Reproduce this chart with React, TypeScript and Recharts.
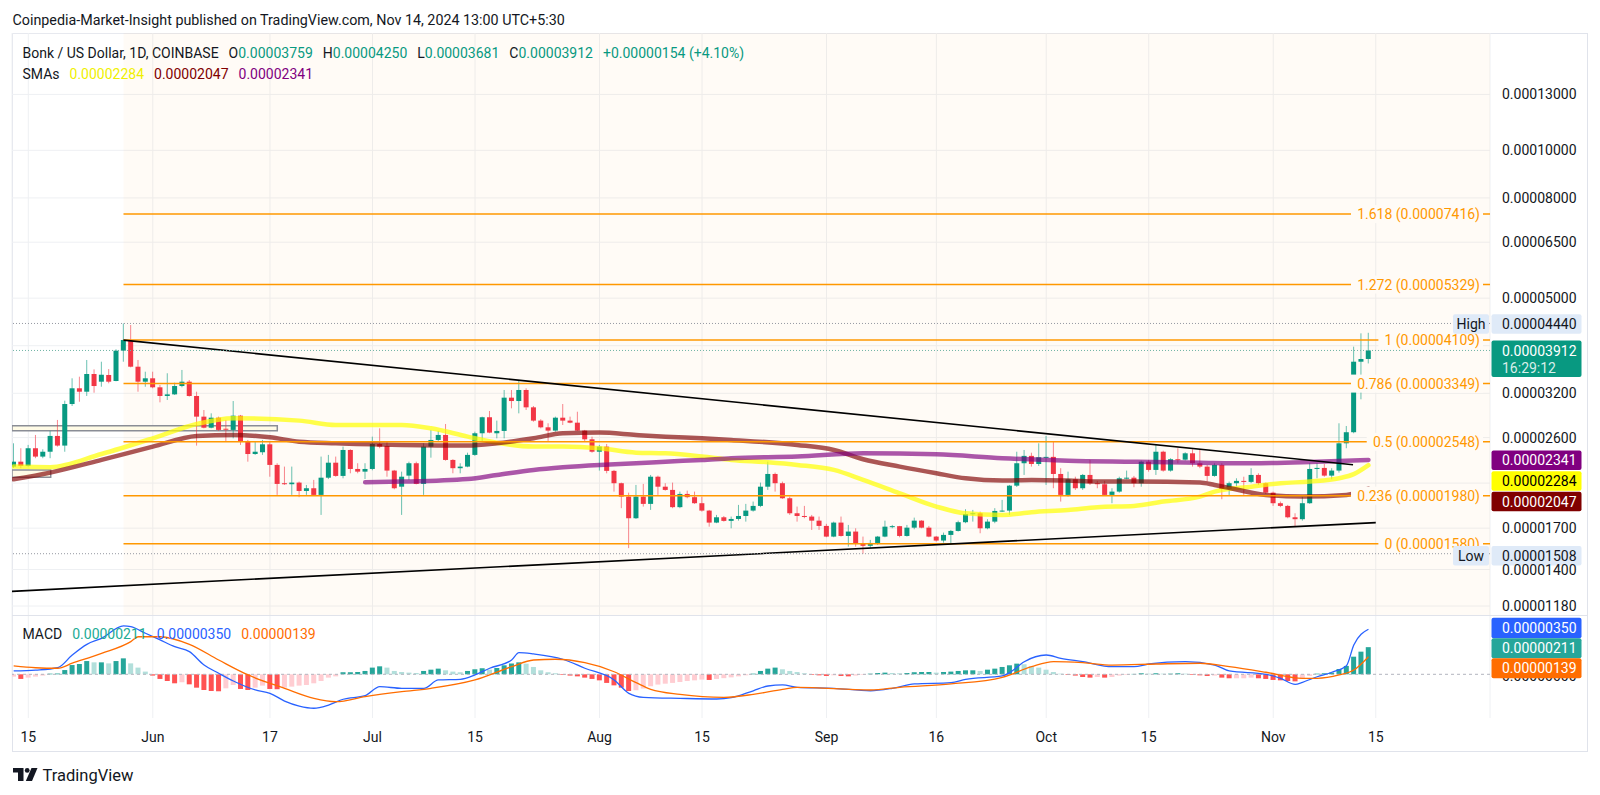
import React from 'react';
import { ComposedChart, Bar, Line, XAxis, YAxis, CartesianGrid, ReferenceLine, ReferenceArea, Cell } from 'recharts';

// ---------------- DATA ----------------
// day 0 = 15 May 2024, first candle = 13 May 2024 (day -2), last = 14 Nov 2024 (day 183)
const FIRST_DAY = -2;
const PRICE_UNIT = 1e-8; // prices below are in 1e-8 USD
const MACD_UNIT = 1e-6; // MACD values below are in 1e-6 USD

// [open, high, low, close]
const candlesOHLC: number[][] = [
  [2269, 2531, 2255, 2322], [2322, 2473, 2252, 2276],
  [2276, 2512, 2269, 2473], [2473, 2632, 2360, 2378], [2378, 2461, 2360, 2433], [2433, 2682, 2360, 2620], [2620, 2824, 2492, 2504],
  [2504, 3091, 2433, 3043], [3043, 3433, 3015, 3276], [3276, 3459, 3076, 3224], [3224, 3741, 3160, 3503], [3503, 3580, 3209, 3311],
  [3379, 3711, 3300, 3491], [3487, 3585, 3353, 3379], [3390, 3933, 3385, 3908], [3908, 4440, 3711, 4109], [4095, 4408, 3614, 3625],
  [3625, 3741, 3224, 3379], [3379, 3541, 3300, 3433],
  // Jun
  [3433, 3541, 3276, 3291], [3291, 3327, 3067, 3160], [3160, 3515, 3101, 3184], [3184, 3363, 3175, 3311], [3311, 3570, 3291, 3379],
  [3379, 3406, 3150, 3160], [3160, 3224, 2504, 2868], [2868, 2959, 2715, 2723], [2723, 2913, 2715, 2854], [2854, 2868, 2682, 2695],
  [2710, 2824, 2550, 2702], [2695, 3086, 2591, 2881], [2881, 2891, 2512, 2550], [2550, 2571, 2322, 2407], [2407, 2550, 2397, 2433],
  [2427, 2571, 2397, 2519], [2519, 2550, 2164, 2287], [2287, 2305, 1987, 2092], [2099, 2269, 2082, 2089], [2089, 2269, 1987, 2105],
  [2105, 2115, 1966, 2024], [2024, 2082, 1987, 2050], [2050, 2132, 1980, 1987], [1987, 2378, 1809, 2154], [2154, 2397, 2140, 2311],
  [2311, 2378, 2164, 2172], [2172, 2492, 2148, 2453], [2453, 2461, 2199, 2244], [2244, 2305, 2199, 2216], [2216, 2305, 2141, 2244],
  // Jul
  [2244, 2611, 2230, 2523], [2523, 2715, 2473, 2492], [2500, 2550, 2164, 2227], [2227, 2234, 2040, 2050], [2065, 2216, 1809, 2164],
  [2175, 2322, 2132, 2305], [2305, 2322, 2088, 2092], [2092, 2531, 1987, 2492], [2492, 2695, 2366, 2571], [2571, 2682, 2550, 2632],
  [2632, 2771, 2333, 2341], [2341, 2349, 2199, 2252], [2252, 2305, 2199, 2269], [2269, 2422, 2262, 2397], [2397, 2673, 2386, 2653],
  [2653, 2868, 2550, 2860], [2860, 2945, 2653, 2661], [2653, 2815, 2591, 2682], [2682, 3250, 2591, 3135], [3135, 3250, 2982, 3086],
  [3086, 3390, 2913, 3250], [3250, 3276, 2959, 2996], [2996, 3015, 2801, 2815], [2815, 2833, 2715, 2728], [2728, 2780, 2559, 2686],
  [2686, 2868, 2673, 2854], [2854, 3043, 2758, 2815], [2815, 2868, 2780, 2788], [2788, 2935, 2682, 2686], [2686, 2695, 2550, 2579],
  [2579, 2611, 2422, 2433],
  // Aug
  [2433, 2512, 2227, 2492], [2492, 2523, 2199, 2224], [2224, 2234, 2018, 2099], [2099, 2105, 1867, 1971], [1971, 2008, 1548, 1781],
  [1781, 2082, 1775, 1971], [1971, 2092, 1881, 1905], [1905, 2182, 1852, 2164], [2164, 2175, 1987, 2065], [2065, 2099, 2027, 2034],
  [2034, 2105, 1867, 1876], [1876, 2018, 1867, 1996], [1996, 2027, 1956, 1966], [1966, 2018, 1905, 1911], [1911, 1971, 1837, 1846],
  [1846, 1852, 1712, 1745], [1745, 1809, 1740, 1789], [1789, 1800, 1753, 1759], [1759, 1795, 1699, 1775], [1775, 1896, 1761, 1800],
  [1800, 1905, 1753, 1846], [1846, 1926, 1837, 1887], [1887, 2105, 1876, 2065], [2065, 2322, 2034, 2192], [2192, 2206, 2018, 2099],
  [2099, 2115, 1950, 1956], [1956, 1971, 1809, 1823], [1823, 1881, 1753, 1800], [1800, 1887, 1781, 1795], [1795, 1809, 1686, 1761],
  [1761, 1795, 1686, 1718],
  // Sep
  [1718, 1735, 1629, 1634], [1634, 1753, 1629, 1745], [1745, 1795, 1634, 1639], [1639, 1726, 1559, 1673], [1673, 1699, 1559, 1579],
  [1579, 1634, 1508, 1565], [1565, 1609, 1550, 1586], [1586, 1639, 1572, 1634], [1634, 1761, 1629, 1712], [1712, 1726, 1699, 1716],
  [1716, 1718, 1629, 1639], [1639, 1726, 1634, 1704], [1704, 1786, 1691, 1761], [1761, 1765, 1699, 1704], [1704, 1718, 1629, 1634],
  [1634, 1639, 1596, 1604], [1604, 1665, 1588, 1647], [1647, 1686, 1584, 1678], [1678, 1761, 1673, 1748], [1748, 1858, 1740, 1817],
  [1817, 1852, 1753, 1823], [1823, 1837, 1660, 1699], [1699, 1773, 1691, 1753], [1753, 1867, 1740, 1843], [1843, 1941, 1835, 1846],
  [1846, 2082, 1809, 2075], [2075, 2433, 2062, 2305], [2305, 2453, 2182, 2386], [2386, 2422, 2269, 2297], [2297, 2531, 2276, 2371],
  // Oct
  [2371, 2620, 2082, 2375], [2375, 2550, 2050, 2192], [2192, 2252, 1926, 1987], [1987, 2216, 1971, 2138], [2138, 2164, 2034, 2050],
  [2050, 2192, 2034, 2182], [2182, 2341, 2082, 2099], [2099, 2122, 2050, 2089], [2089, 2122, 1978, 1987], [1987, 2050, 1911, 2018],
  [2018, 2164, 2008, 2148], [2148, 2227, 2138, 2154], [2154, 2172, 2060, 2099], [2099, 2333, 2065, 2322], [2322, 2341, 2216, 2234],
  [2234, 2512, 2182, 2433], [2433, 2445, 2216, 2227], [2227, 2360, 2216, 2349], [2349, 2473, 2305, 2344], [2344, 2427, 2335, 2415],
  [2415, 2461, 2269, 2305], [2305, 2461, 2252, 2269], [2269, 2287, 2115, 2172], [2172, 2305, 2164, 2287], [2287, 2305, 1947, 2043],
  [2043, 2115, 1987, 2099], [2099, 2148, 2065, 2122], [2122, 2164, 1987, 2112], [2112, 2252, 2100, 2182], [2182, 2199, 2082, 2099],
  [2099, 2105, 1996, 2008],
  // Nov
  [2008, 2018, 1887, 1911], [1911, 1926, 1876, 1887], [1887, 1896, 1781, 1789], [1789, 1823, 1712, 1773], [1773, 1971, 1761, 1911],
  [1911, 2305, 1905, 2244], [2244, 2305, 2148, 2255], [2255, 2297, 2164, 2175], [2175, 2252, 2138, 2227], [2227, 2780, 2206, 2531],
  [2531, 2745, 2473, 2666], [2666, 3982, 2653, 3711], [3711, 4239, 3111, 3758], [3759, 4250, 3681, 3912],
];

// [day, price]
const smaYellowPts: number[][] = [
  [-2, 2269], [3, 2262], [10, 2407], [17, 2591], [23, 2771], [28, 2846], [37, 2815], [42, 2758], [51, 2758], [55, 2715],
  [60, 2611], [64, 2538], [69, 2492], [73, 2492], [78, 2473], [83, 2422], [87, 2415], [92, 2378], [96, 2341], [101, 2316],
  [105, 2287], [110, 2234], [114, 2132], [119, 2002], [124, 1881], [128, 1823], [133, 1809], [137, 1832], [142, 1852], [146, 1876],
  [151, 1887], [155, 1926], [160, 1971], [162, 2018], [167, 2065], [171, 2099], [175, 2115], [179, 2148], [181, 2190], [183, 2284],
];
const smaMaroonPts: number[][] = [
  [-2, 2138], [3, 2206], [10, 2341], [17, 2492], [23, 2620], [28, 2632], [33, 2604], [37, 2550], [42, 2531], [51, 2512],
  [60, 2504], [64, 2531], [69, 2591], [73, 2653], [78, 2661], [83, 2632], [87, 2611], [92, 2591], [96, 2571], [105, 2512],
  [110, 2453], [114, 2349], [119, 2269], [124, 2199], [128, 2148], [133, 2125], [137, 2132], [142, 2125], [146, 2115], [151, 2115],
  [160, 2105], [162, 2082], [169, 1987], [174, 1971], [180, 1987], [183, 2047],
];
const smaPurplePts: number[][] = [
  [46, 2109], [51, 2115], [60, 2141], [64, 2182], [69, 2234], [73, 2262], [78, 2287], [83, 2305], [87, 2322], [92, 2341],
  [96, 2360], [105, 2378], [114, 2415], [124, 2403], [133, 2360], [142, 2333], [151, 2322], [160, 2311], [167, 2305], [176, 2322],
  [183, 2341],
];

// [day, value]
const macdPts: number[][] = [
  [-2, 0.26], [1, 0.33], [4, 0.51], [6, 1.5], [8, 2.33], [10, 2.8], [13, 3.76], [14, 3.7], [16, 3.19], [18, 2.67],
  [20, 2.15], [22, 1.76], [24, 0.72], [26, 0.08], [28, -0.52], [31, -1.22], [33, -1.48], [35, -2.08], [37, -2.47], [39, -2.64],
  [41, -2.39], [43, -1.94], [46, -1.66], [48, -0.96], [51, -1.09], [54, -1.09], [56, -0.44], [59, -0.39], [61, -0.05], [63, 0.47],
  [66, 1.11], [67, 1.68], [69, 1.58], [73, 1.17], [76, 0.47], [80, -0.44], [82, -1.48], [84, -1.79], [89, -1.87], [94, -1.92],
  [96, -1.82], [99, -1.28], [101, -0.91], [103, -0.83], [105, -1.01], [110, -1.09], [115, -1.28], [118, -1.09], [121, -0.75], [126, -0.65],
  [128, -0.39], [133, -0.13], [134, 0.12], [136, 0.98], [139, 1.5], [141, 1.24], [144, 0.98], [148, 0.59], [151, 0.59], [153, 0.8],
  [158, 0.98], [162, 0.72], [164, 0.26], [169, 0.0], [171, -0.31], [173, -0.78], [174, -0.62], [176, -0.19], [178, 0.16], [180, 0.67],
  [181, 2.28], [183, 3.5],
];
const signalPts: number[][] = [
  [-2, 0.65], [1, 0.51], [4, 0.47], [6, 0.86], [10, 1.63], [14, 2.54], [15, 2.92], [18, 2.92], [22, 2.33], [26, 1.11],
  [30, -0.05], [35, -1.09], [39, -1.87], [42, -2.13], [46, -1.74], [51, -1.35], [55, -1.09], [61, -0.44], [66, 0.59], [69, 1.11],
  [72, 1.17], [76, 0.9], [80, 0.2], [83, -0.65], [85, -1.17], [89, -1.56], [95, -1.79], [99, -1.56], [103, -1.17], [105, -1.01],
  [115, -1.22], [119, -1.01], [126, -0.75], [133, -0.23], [137, 0.59], [140, 0.98], [144, 0.9], [148, 0.72], [154, 0.8], [160, 0.86],
  [164, 0.59], [169, 0.16], [174, -0.31], [176, -0.31], [179, -0.05], [181, 0.33], [183, 1.37],
];
// one value per candle (day -2 .. 183)
const histValues: number[] = [
  -0.18, -0.36, -0.26, -0.18, -0.1, 0.05, 0.06, 0.33, 0.72, 0.8,
  1.03, 0.93, 0.93, 0.85, 1.03, 1.24, 0.85, 0.52, 0.21, -0.1,
  -0.36, -0.52, -0.7, -0.62, -0.78, -1.04, -1.22, -1.3, -1.32, -1.09,
  -0.83, -1.14, -1.22, -1.04, -0.88, -1.14, -1.16, -1.04, -0.96, -0.88,
  -0.83, -0.7, -0.52, -0.26, -0.16, 0.16, 0.16, 0.18, 0.26, 0.52,
  0.62, 0.52, 0.26, 0.18, 0.13, 0.1, 0.26, 0.36, 0.44, 0.31,
  0.21, 0.16, 0.26, 0.39, 0.47, 0.36, 0.49, 0.7, 0.83, 0.93,
  0.83, 0.57, 0.31, 0.16, 0.08, -0.05, -0.1, -0.16, -0.26, -0.36,
  -0.47, -0.67, -0.86, -1.04, -1.3, -1.24, -1.11, -0.93, -0.8, -0.73,
  -0.67, -0.6, -0.52, -0.47, -0.41, -0.44, -0.36, -0.3, -0.24, -0.16,
  -0.08, 0.05, 0.26, 0.44, 0.52, 0.39, 0.26, 0.18, 0.08, -0.05,
  -0.08, -0.13, -0.08, -0.13, -0.16, -0.1, -0.05, 0.05, 0.1, 0.13,
  0.1, 0.08, 0.1, 0.16, 0.18, 0.18, 0.13, 0.18, 0.21, 0.26,
  0.31, 0.31, 0.26, 0.36, 0.44, 0.57, 0.7, 0.83, 0.78, 0.62,
  0.52, 0.36, 0.18, 0.05, -0.05, -0.1, -0.21, -0.26, -0.21, -0.26,
  -0.21, -0.1, -0.05, 0.03, 0.08, 0.05, 0.08, 0.05, 0.05, 0.08,
  0.05, -0.05, -0.08, -0.13, -0.1, -0.26, -0.31, -0.31, -0.31, -0.26,
  -0.31, -0.36, -0.44, -0.47, -0.52, -0.55, -0.36, -0.13, 0.05, 0.08,
  0.13, 0.41, 0.65, 1.37, 1.76, 2.11,
];

const dateTicks = [0, 17, 33, 47, 61, 78, 92, 109, 124, 139, 153, 170, 184];
const dateLabels = ['15', 'Jun', '17', 'Jul', '15', 'Aug', '15', 'Sep', '16', 'Oct', '15', 'Nov', '15'];
const priceTicks = [13000, 10000, 8000, 6500, 5000, 4000, 3200, 2600, 2100, 1700, 1400, 1180];
const maskedPriceTicks = [4000, 2100];

const fibStartDay = 13;
const fibRatios = ['1.618', '1.272', '1', '0.786', '0.5', '0.236', '0'];
const fibPrices = [7416, 5329, 4109, 3349, 2548, 1980, 1580];

const upperTrend = [[13, 4106], [180.9, 2289]];
const lowerTrend = [[-2.226, 1264], [184, 1745]];
const zoneBoxes = [[-2.226, 34, 2683, 2749], [-2.226, 3.06, 2158, 2234]];

const lastHigh = 4440;
const lastLow = 1508;
const lastClose = 3912;
const lastSma = [2284, 2047, 2341]; // yellow, maroon, purple
const lastMacd = [3.5, 2.11, 1.39]; // macd, histogram, signal

// ---------------- LAYOUT / STYLE ----------------
const X_MIN = -2.226;
const X_MAX = 199.6;
const P_MIN = 1126e-8;
const P_MAX = 17338e-8;
const M_MIN = -3.398e-6;
const M_MAX = 4.533e-6;
const GREEN = '#089981';
const RED = '#f23645';
const TEXT = '#131722';
const GRID = '#eef0f3';
const FONT = "Roboto, 'Noto Sans', 'DejaVu Sans', sans-serif";
const SHADE_BG = '#fffbf6';

// ---------------- TABLES ----------------
const mainData: any[] = candlesOHLC.map(([o, h, l, c], i) => ({
  d: FIRST_DAY + i,
  o: o * PRICE_UNIT,
  h: h * PRICE_UNIT,
  l: l * PRICE_UNIT,
  c: c * PRICE_UNIT,
  range: [l * PRICE_UNIT, h * PRICE_UNIT],
}));
const attach = (rows: any[], pts: number[][], key: string, unit: number) =>
  pts.forEach(([d, v]) => {
    const r = rows[d - FIRST_DAY];
    if (r) r[key] = v * unit;
  });
attach(mainData, smaYellowPts, 'smaY', PRICE_UNIT);
attach(mainData, smaMaroonPts, 'smaM', PRICE_UNIT);
attach(mainData, smaPurplePts, 'smaP', PRICE_UNIT);

const macdData: any[] = histValues.map((h, i) => {
  const prev = i > 0 ? histValues[i - 1] : h;
  const color = h >= 0 ? (h >= prev ? '#26a69a' : '#b2dfdb') : h < prev ? '#ff5252' : '#ffcdd2';
  return { d: FIRST_DAY + i, hist: h * MACD_UNIT, color };
});
attach(macdData, macdPts, 'macd', MACD_UNIT);
attach(macdData, signalPts, 'signal', MACD_UNIT);

// ---------------- SHAPES ----------------
const CW: Record<string, number> = { '.': 0.27, ' ': 0.25, '(': 0.34, ')': 0.35 };
const textWidth = (s: string, fs: number) => s.split('').reduce((a, ch) => a + (CW[ch] ?? 0.562) * fs, 0);

const Candle = (props: any) => {
  const { x, y, width, height, payload } = props;
  if (x == null || y == null || !payload || !isFinite(y) || !isFinite(height)) return null;
  const { o, h, l, c } = payload;
  const top = Math.min(y, y + height);
  const bottom = Math.max(y, y + height);
  const lh = Math.log(h);
  const span = lh - Math.log(l);
  const yOf = (p: number) => (span === 0 ? top : top + ((lh - Math.log(p)) / span) * (bottom - top));
  const yo = yOf(o);
  const yc = yOf(c);
  const color = c >= o ? GREEN : RED;
  const cx = x + width / 2;
  const bt = Math.min(yo, yc);
  const bh = Math.max(Math.abs(yo - yc), 1);
  return (
    <g>
      <line x1={cx} x2={cx} y1={top} y2={bottom} stroke={color} strokeOpacity={0.6} strokeWidth={1} />
      <rect x={x} y={bt} width={width} height={bh} fill={color} />
    </g>
  );
};

const FibLabel = (props: any) => {
  const { viewBox, text } = props;
  if (!viewBox) return null;
  const xEnd = viewBox.x + viewBox.width - 10;
  const y = viewBox.y;
  const w = textWidth(text, 14);
  return (
    <g>
      <rect x={xEnd - w - 6} y={y - 9} width={w + 9} height={18} fill={SHADE_BG} />
      <text x={xEnd} y={y} textAnchor="end" dominantBaseline="central" fontSize={14} fill="#ff9800">
        {text}
      </text>
    </g>
  );
};

const PriceTag = (props: any) => {
  const { viewBox, text, sub, bg, fg, dy = 0, tag, h = 19.5 } = props;
  if (!viewBox) return null;
  const x0 = viewBox.x + viewBox.width;
  const cy = viewBox.y + dy;
  const top = sub ? cy - 11 : cy - h / 2;
  const boxH = sub ? 36.6 : h;
  return (
    <g>
      {tag ? (
        <g>
          <rect x={x0 - 37} y={top} width={36} height={boxH} fill={bg} rx={2} />
          <text x={x0 - 19} y={cy} textAnchor="middle" dominantBaseline="central" fontSize={14} fill={TEXT}>
            {tag}
          </text>
        </g>
      ) : null}
      <rect x={x0 + 1.5} y={top} width={90} height={boxH} fill={bg} rx={2} />
      <text x={x0 + 12} y={cy} dominantBaseline="central" fontSize={14} fill={fg}>
        {text}
      </text>
      {sub ? (
        <text x={x0 + 12} y={cy + 16.6} dominantBaseline="central" fontSize={14} fill={fg} fillOpacity={0.85}>
          {sub}
        </text>
      ) : null}
    </g>
  );
};

const ZeroText = (props: any) => {
  const { viewBox } = props;
  if (!viewBox) return null;
  return (
    <text x={viewBox.x + viewBox.width + 12} y={viewBox.y + 1.5} dominantBaseline="central" fontSize={14} fill={TEXT}>
      0.00000000
    </text>
  );
};

const fmtP = (p: number) => (p * PRICE_UNIT).toFixed(8);
const fmtM = (m: number) => (m * MACD_UNIT).toFixed(8);

// ---------------- CHARTS ----------------
const MainChart = () => (
  <ComposedChart width={1600} height={583} data={mainData} margin={{ top: 0, right: 0, bottom: 0, left: 12 }}>
    <CartesianGrid stroke={GRID} />
    <XAxis dataKey="d" type="number" domain={[X_MIN, X_MAX]} ticks={dateTicks} hide allowDataOverflow />
    <YAxis
      orientation="right"
      scale="log"
      type="number"
      domain={[P_MIN, P_MAX]}
      allowDataOverflow
      ticks={priceTicks.map((t) => t * PRICE_UNIT)}
      interval={0}
      width={110}
      axisLine={false}
      tickLine={false}
      tickSize={0}
      tickMargin={12}
      tick={{ fontSize: 14, fill: TEXT }}
      tickFormatter={(v: number) => (maskedPriceTicks.includes(Math.round(v / PRICE_UNIT)) ? '' : v.toFixed(8))}
    />
    <ReferenceArea x1={fibStartDay} x2={X_MAX} y1={P_MIN} y2={P_MAX} fill="#ff9800" fillOpacity={0.035} stroke="none" ifOverflow="hidden" />
    {zoneBoxes.map(([d1, d2, p1, p2], i) => (
      <ReferenceArea
        key={'z' + i}
        x1={d1}
        x2={d2}
        y1={p1 * PRICE_UNIT}
        y2={p2 * PRICE_UNIT}
        fill="#fffbe3"
        fillOpacity={0.9}
        stroke="#8a8d96"
        strokeWidth={1.5}
        ifOverflow="hidden"
      />
    ))}
    <Line dataKey="smaY" type="monotone" stroke="#ffff00" strokeOpacity={0.7} strokeWidth={4.5} strokeLinecap="round" dot={false} activeDot={false} connectNulls isAnimationActive={false} />
    <Line dataKey="smaM" type="monotone" stroke="#800000" strokeOpacity={0.66} strokeWidth={4.5} strokeLinecap="round" dot={false} activeDot={false} connectNulls isAnimationActive={false} />
    <Line dataKey="smaP" type="monotone" stroke="#800080" strokeOpacity={0.66} strokeWidth={4.5} strokeLinecap="round" dot={false} activeDot={false} connectNulls isAnimationActive={false} />
    {fibPrices.map((p, i) => (
      <ReferenceLine
        key={'f' + i}
        segment={[{ x: fibStartDay, y: p * PRICE_UNIT }, { x: X_MAX, y: p * PRICE_UNIT }]}
        stroke="#ff9800"
        strokeWidth={1.5}
        ifOverflow="hidden"
        label={<FibLabel text={`${fibRatios[i]} (${fmtP(p)})`} />}
      />
    ))}
    {[upperTrend, lowerTrend].map((t, i) => (
      <ReferenceLine
        key={'t' + i}
        segment={[{ x: t[0][0], y: t[0][1] * PRICE_UNIT }, { x: t[1][0], y: t[1][1] * PRICE_UNIT }]}
        stroke="#000000"
        strokeWidth={1.6}
        ifOverflow="hidden"
      />
    ))}
    <Bar dataKey="range" barSize={5} isAnimationActive={false} shape={(p: any) => <Candle {...p} />} />
    <ReferenceLine y={lastHigh * PRICE_UNIT} stroke="#9598a1" strokeDasharray="1 2" label={<PriceTag text={fmtP(lastHigh)} tag="High" bg="#dfeaf8" fg={TEXT} dy={0.5} />} />
    <ReferenceLine y={lastClose * PRICE_UNIT} stroke="#6fb3a5" strokeDasharray="1 2" label={<PriceTag text={fmtP(lastClose)} sub="16:29:12" bg={GREEN} fg="#ffffff" dy={1} />} />
    <ReferenceLine y={lastLow * PRICE_UNIT} stroke="#9598a1" strokeDasharray="1 2" label={<PriceTag text={fmtP(lastLow)} tag="Low" bg="#dfeaf8" fg={TEXT} dy={2} />} />
    <ReferenceLine y={lastSma[2] * PRICE_UNIT} stroke="none" label={<PriceTag text={fmtP(lastSma[2])} bg="#800080" fg="#ffffff" dy={0.25} />} />
    <ReferenceLine y={lastSma[0] * PRICE_UNIT} stroke="none" label={<PriceTag text={fmtP(lastSma[0])} bg="#ffff00" fg="#000000" dy={15.8} />} />
    <ReferenceLine y={lastSma[1] * PRICE_UNIT} stroke="none" label={<PriceTag text={fmtP(lastSma[1])} bg="#800000" fg="#ffffff" dy={13} />} />
  </ComposedChart>
);

const MacdChart = () => (
  <ComposedChart width={1600} height={136} data={macdData} margin={{ top: 0, right: 0, bottom: 0, left: 12 }}>
    <CartesianGrid stroke={GRID} horizontal={false} />
    <XAxis
      dataKey="d"
      type="number"
      domain={[X_MIN, X_MAX]}
      allowDataOverflow
      ticks={dateTicks}
      interval={0}
      height={34}
      axisLine={false}
      tickLine={false}
      tickSize={0}
      tickMargin={14}
      tick={{ fontSize: 14, fill: TEXT }}
      tickFormatter={(v: number) => dateLabels[dateTicks.indexOf(v)] ?? ''}
    />
    <YAxis orientation="right" type="number" domain={[M_MIN, M_MAX]} allowDataOverflow width={110} tick={false} axisLine={false} tickLine={false} />
    <ReferenceLine y={0} stroke="#b2b5be" strokeDasharray="3 3" label={<ZeroText />} />
    <Bar dataKey="hist" barSize={5} isAnimationActive={false}>
      {macdData.map((e, i) => (
        <Cell key={i} fill={e.color} />
      ))}
    </Bar>
    <Line dataKey="macd" type="monotone" stroke="#2962ff" strokeWidth={1.3} dot={false} activeDot={false} connectNulls isAnimationActive={false} />
    <Line dataKey="signal" type="monotone" stroke="#ff6d00" strokeWidth={1.3} dot={false} activeDot={false} connectNulls isAnimationActive={false} />
    <ReferenceLine y={lastMacd[0] * MACD_UNIT} stroke="none" label={<PriceTag text={fmtM(lastMacd[0])} bg="#2962ff" fg="#ffffff" dy={-1.3} h={20.6} />} />
    <ReferenceLine y={lastMacd[1] * MACD_UNIT} stroke="none" label={<PriceTag text={fmtM(lastMacd[1])} bg="#26a69a" fg="#ffffff" dy={1.1} h={20} />} />
    <ReferenceLine y={lastMacd[2] * MACD_UNIT} stroke="none" label={<PriceTag text={fmtM(lastMacd[2])} bg="#ff6d00" fg="#ffffff" dy={11.9} h={20} />} />
  </ComposedChart>
);

const Seg = ({ k, v, color }: { k?: string; v: string; color: string }) => (
  <span style={{ marginRight: 10 }}>
    {k ? <span style={{ color: TEXT }}>{k}</span> : null}
    <span style={{ color }}>{v}</span>
  </span>
);

export default function App() {
  return (
    <div style={{ position: 'absolute', left: 0, top: 0, width: 1600, height: 795, background: '#ffffff', fontFamily: FONT, color: TEXT, overflow: 'hidden' }}>
      <div style={{ position: 'absolute', left: 12.5, top: 9.5, fontSize: 14.3, lineHeight: '20px', whiteSpace: 'nowrap' }}>
        Coinpedia-Market-Insight published on TradingView.com, Nov 14, 2024 13:00 UTC+5:30
      </div>
      <div style={{ position: 'absolute', left: 12, top: 33, width: 1576, height: 719, border: '1px solid #e0e3eb', boxSizing: 'border-box' }} />
      <div style={{ position: 'absolute', left: 0, top: 33 }}>
        <MainChart />
      </div>
      <div style={{ position: 'absolute', left: 0, top: 616 }}>
        <MacdChart />
      </div>
      <div style={{ position: 'absolute', left: 12, top: 615, width: 1576, height: 1, background: '#e0e3eb' }} />
      <div style={{ position: 'absolute', left: 22.5, top: 42.5, fontSize: 14, lineHeight: '20px', whiteSpace: 'nowrap' }}>
        <Seg v="Bonk / US Dollar, 1D, COINBASE" color={TEXT} />
        <Seg k="O" v="0.00003759" color={GREEN} />
        <Seg k="H" v="0.00004250" color={GREEN} />
        <Seg k="L" v="0.00003681" color={GREEN} />
        <Seg k="C" v="0.00003912" color={GREEN} />
        <Seg v="+0.00000154 (+4.10%)" color={GREEN} />
      </div>
      <div style={{ position: 'absolute', left: 22.5, top: 64, fontSize: 14, lineHeight: '20px', whiteSpace: 'nowrap' }}>
        <Seg v="SMAs" color={TEXT} />
        <Seg v="0.00002284" color="#f0f000" />
        <Seg v="0.00002047" color="#800000" />
        <Seg v="0.00002341" color="#800080" />
      </div>
      <div style={{ position: 'absolute', left: 22.5, top: 624, fontSize: 14, lineHeight: '20px', whiteSpace: 'nowrap' }}>
        <Seg v="MACD" color={TEXT} />
        <Seg v="0.00000211" color="#22ab94" />
        <Seg v="0.00000350" color="#2962ff" />
        <Seg v="0.00000139" color="#ff6d00" />
      </div>
      <svg style={{ position: 'absolute', left: 12.5, top: 768 }} width={26} height={14} viewBox="0 0 26 14">
        <path d="M0 0 H10.5 V13 H5 V4.6 H0 Z" fill="#131722" />
        <circle cx={14.2} cy={2.4} r={2.4} fill="#131722" />
        <path d="M18.5 0 H24.5 L19 13 H12.8 Z" fill="#131722" />
      </svg>
      <div style={{ position: 'absolute', left: 42.5, top: 764.5, fontSize: 16.5, lineHeight: '21px', whiteSpace: 'nowrap', color: TEXT }}>TradingView</div>
    </div>
  );
}
